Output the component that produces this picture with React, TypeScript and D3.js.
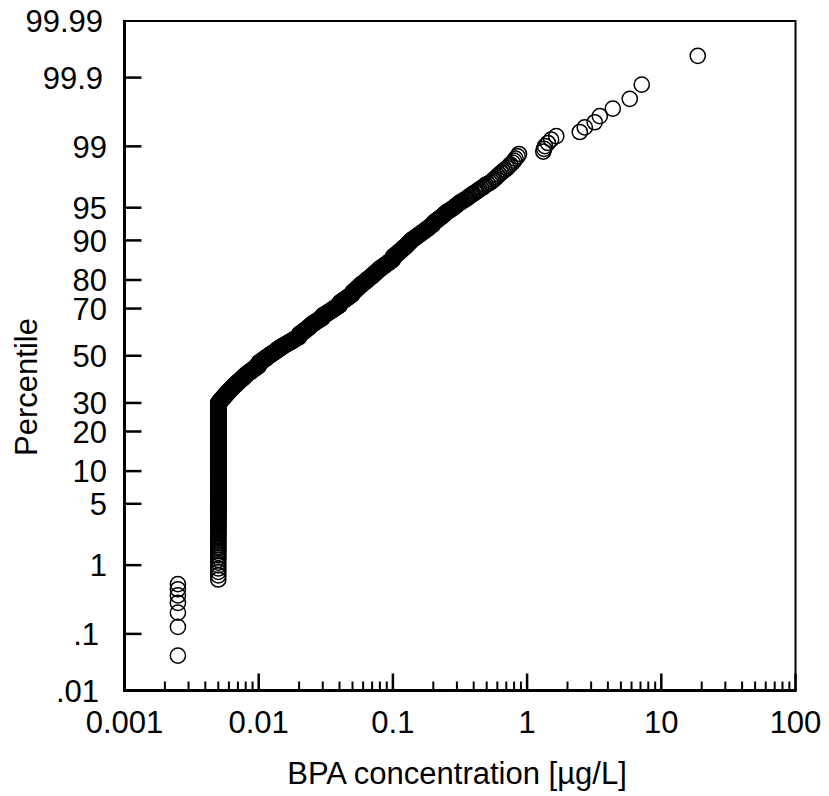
import React, { useEffect, useRef } from 'react'
import * as d3 from 'd3'

// eixo x (log) e eixo y (probabilidade normal)
const xTickValues = [0.001, 0.01, 0.1, 1, 10, 100]
const xTickLabels = ['0.001', '0.01', '0.1', '1', '10', '100']
const yTickValues = [0.01, 0.1, 1, 5, 10, 20, 30, 50, 70, 80, 90, 95, 99, 99.9, 99.99]
const yTickLabels = ['.01', '.1', '1', '5', '10', '20', '30', '50', '70', '80', '90', '95', '99', '99.9', '99.99']

// amostras abaixo do limite: [valor, quantidade]
const lowGroups: [number, number][] = [
  [0.0025, 7],
  [0.005, 343],
]

// faixa densa: [valor µg/L, quantidade de amostras]
const bandGroups: [number, number][] = [
  [0.00513, 8], [0.00525, 7], [0.00537, 7], [0.0055, 7], [0.00562, 7], [0.00575, 7], [0.00589, 7], [0.00603, 7], [0.00617, 7], [0.00631, 7],
  [0.00646, 6], [0.00661, 6], [0.00676, 6], [0.00692, 6], [0.00708, 6], [0.00724, 6], [0.00741, 6], [0.00759, 6], [0.00776, 7], [0.00794, 7],
  [0.00813, 5], [0.00832, 5], [0.00851, 5], [0.00871, 5], [0.00891, 5], [0.00912, 5], [0.00933, 5], [0.00955, 5], [0.00977, 5], [0.01, 16],
  [0.0102, 5], [0.0105, 5], [0.0107, 5], [0.011, 5], [0.0112, 5], [0.0115, 5], [0.0117, 5], [0.012, 5], [0.0123, 5], [0.0126, 4],
  [0.0129, 5], [0.0132, 5], [0.0135, 5], [0.0138, 5], [0.0141, 5], [0.0145, 5], [0.0148, 4], [0.0151, 4], [0.0155, 4], [0.0158, 4],
  [0.0162, 4], [0.0166, 4], [0.017, 4], [0.0174, 4], [0.0178, 4], [0.0182, 4], [0.0186, 4], [0.0191, 4], [0.0195, 4], [0.02, 14],
  [0.0204, 5], [0.0209, 5], [0.0214, 5], [0.0219, 5], [0.0224, 5], [0.0229, 5], [0.0234, 5], [0.024, 6], [0.0245, 6], [0.0251, 6],
  [0.0257, 4], [0.0263, 4], [0.0269, 4], [0.0275, 4], [0.0282, 4], [0.0288, 4], [0.0295, 4], [0.03, 11], [0.0309, 4], [0.0316, 4],
  [0.0324, 4], [0.0331, 4], [0.0339, 4], [0.0347, 4], [0.0355, 4], [0.0363, 4], [0.0372, 4], [0.038, 4], [0.0389, 4], [0.04, 12],
  [0.0407, 4], [0.0417, 4], [0.0427, 4], [0.0437, 4], [0.0447, 4], [0.0457, 4], [0.0468, 4], [0.0479, 4], [0.049, 4], [0.05, 9],
  [0.0513, 5], [0.0525, 5], [0.0537, 5], [0.055, 5], [0.0562, 5], [0.0575, 4], [0.0589, 4], [0.0603, 4], [0.0617, 4], [0.0631, 4],
  [0.0646, 4], [0.0661, 4], [0.0676, 4], [0.0692, 4], [0.0708, 4], [0.0724, 4], [0.0741, 4], [0.0759, 4], [0.0776, 4], [0.0794, 4],
  [0.0813, 3], [0.0832, 3], [0.0851, 3], [0.0871, 3], [0.0891, 3], [0.0912, 3], [0.0933, 3], [0.0955, 3], [0.0977, 3], [0.1, 9],
  [0.102, 3], [0.105, 3], [0.107, 3], [0.11, 3], [0.112, 3], [0.115, 3], [0.117, 3], [0.12, 3], [0.123, 3], [0.126, 4],
  [0.129, 3], [0.132, 3], [0.135, 3], [0.138, 3], [0.141, 2], [0.145, 2], [0.148, 2], [0.151, 2], [0.155, 2], [0.158, 2],
  [0.162, 2], [0.166, 2], [0.17, 2], [0.174, 2], [0.178, 2], [0.182, 2], [0.186, 2], [0.191, 2], [0.195, 2], [0.2, 3],
]

// parte superior da faixa, uma amostra por valor
const upperSamples = [
  0.202, 0.205, 0.208, 0.21, 0.213, 0.216, 0.219, 0.222, 0.226, 0.229, 0.232, 0.235, 0.238, 0.241, 0.244, 0.247, 0.25,
  0.255, 0.26, 0.265, 0.27, 0.275, 0.28, 0.285, 0.29, 0.295, 0.3, 0.305, 0.31, 0.315,
  0.325, 0.33, 0.34, 0.35, 0.355, 0.365, 0.37, 0.38, 0.39, 0.395,
  0.41, 0.42, 0.43, 0.44, 0.455, 0.47, 0.48, 0.49,
  0.51, 0.53, 0.545, 0.56, 0.575, 0.59, 0.605, 0.62,
  0.64, 0.66, 0.68, 0.71, 0.73, 0.75, 0.78,
  0.8, 0.82, 0.85, 0.87,
]

// valores altos
const highSamples = [1.32, 1.34, 1.36, 1.43, 1.51, 1.65, 2.47, 2.69, 3.19, 3.48, 4.35, 5.82, 7.15, 18.7]

// inversa da normal (Acklam)
function probit(p: number) {
  const a = [-3.969683028665376e1, 2.209460984245205e2, -2.759285104469687e2, 1.38357751867269e2, -3.066479806614716e1, 2.506628277459239]
  const b = [-5.447609879822406e1, 1.615858368580409e2, -1.556989798598866e2, 6.680131188771972e1, -1.328068155288572e1]
  const c = [-7.784894002430293e-3, -3.223964580411365e-1, -2.400758277161838, -2.549732539343734, 4.374664141464968, 2.938163982698783]
  const d = [7.784695709041462e-3, 3.224671290700398e-1, 2.445134137142996, 3.754408661907416]
  const plow = 0.02425
  if (p < plow) {
    const q = Math.sqrt(-2 * Math.log(p))
    return (((((c[0] * q + c[1]) * q + c[2]) * q + c[3]) * q + c[4]) * q + c[5]) / ((((d[0] * q + d[1]) * q + d[2]) * q + d[3]) * q + 1)
  }
  if (p <= 1 - plow) {
    const q = p - 0.5
    const r = q * q
    return ((((((a[0] * r + a[1]) * r + a[2]) * r + a[3]) * r + a[4]) * r + a[5]) * q) / (((((b[0] * r + b[1]) * r + b[2]) * r + b[3]) * r + b[4]) * r + 1)
  }
  const q = Math.sqrt(-2 * Math.log(1 - p))
  return -(((((c[0] * q + c[1]) * q + c[2]) * q + c[3]) * q + c[4]) * q + c[5]) / ((((d[0] * q + d[1]) * q + d[2]) * q + d[3]) * q + 1)
}

const ProbPlot = () => {
  const svgRef = useRef<SVGSVGElement>(null)

  useEffect(() => {
    const svg = d3.select(svgRef.current)
    svg.selectAll('*').remove()

    const left = 124.5
    const right = 795.5
    const top = 21
    const bottom = 690.5
    const font = '"Liberation Sans", Arial, sans-serif'

    const x = d3.scaleLog().domain([0.001, 100]).range([left, right])
    const z = d3.scaleLinear().domain([probit(0.0001), probit(0.9999)]).range([bottom, top])
    const y = (pct: number) => z(probit(pct / 100))
    const isDecade = (v: number) => Math.abs(Math.log10(v) - Math.round(Math.log10(v))) < 1e-6

    // amostra ordenada com posição de plotagem (i - 0.5) / n
    const single = (v: number) => [v, 1] as [number, number]
    const groups: [number, number][] = [...lowGroups, ...bandGroups, ...upperSamples.map(single), ...highSamples.map(single)]
    const n = d3.sum(groups, (g) => g[1])
    const points: { v: number; p: number }[] = []
    let rank = 0
    groups.forEach(([v, count]) => {
      for (let k = 0; k < count; k++) {
        rank++
        points.push({ v, p: ((rank - 0.5) / n) * 100 })
      }
    })

    // pontos
    svg
      .append('g')
      .selectAll('circle')
      .data(points)
      .join('circle')
      .attr('cx', (d) => x(d.v))
      .attr('cy', (d) => y(d.p))
      .attr('r', 7.6)
      .attr('fill', 'none')
      .attr('stroke', '#000')
      .attr('stroke-width', 1.5)

    // moldura
    svg
      .append('rect')
      .attr('x', left)
      .attr('y', top)
      .attr('width', right - left)
      .attr('height', bottom - top)
      .attr('fill', 'none')
      .attr('stroke', '#000')
      .attr('stroke-width', 2)
    svg.append('line').attr('x1', left).attr('x2', left).attr('y1', top - 1).attr('y2', bottom + 1.5).attr('stroke', '#000').attr('stroke-width', 3)
    svg.append('line').attr('x1', left - 1.5).attr('x2', right + 1).attr('y1', bottom).attr('y2', bottom).attr('stroke', '#000').attr('stroke-width', 3)

    // ticks do eixo x (para dentro)
    svg
      .append('g')
      .selectAll('line')
      .data(x.ticks())
      .join('line')
      .attr('x1', (d) => x(d))
      .attr('x2', (d) => x(d))
      .attr('y1', bottom)
      .attr('y2', (d) => (isDecade(d) ? bottom - 17 : bottom - 9))
      .attr('stroke', '#000')
      .attr('stroke-width', (d) => (isDecade(d) ? 2.5 : 2))

    svg
      .append('g')
      .selectAll('text')
      .data(xTickValues)
      .join('text')
      .attr('x', (d) => x(d))
      .attr('y', 733)
      .attr('text-anchor', 'middle')
      .attr('font-family', font)
      .attr('font-size', 31)
      .text((d, i) => xTickLabels[i])

    // ticks do eixo y
    svg
      .append('g')
      .selectAll('line')
      .data(yTickValues.slice(1, -1))
      .join('line')
      .attr('x1', left)
      .attr('x2', left + 17)
      .attr('y1', (d) => y(d))
      .attr('y2', (d) => y(d))
      .attr('stroke', '#000')
      .attr('stroke-width', 2.5)

    svg
      .append('g')
      .selectAll('text')
      .data(yTickValues)
      .join('text')
      .attr('x', (d, i) => (yTickLabels[i].startsWith('.') ? 99 : yTickLabels[i].includes('.') ? 103 : 107))
      .attr('y', (d) => y(d))
      .attr('dy', '0.36em')
      .attr('text-anchor', 'end')
      .attr('font-family', font)
      .attr('font-size', 31)
      .text((d, i) => yTickLabels[i])

    // títulos
    svg
      .append('text')
      .attr('x', 457)
      .attr('y', 784)
      .attr('text-anchor', 'middle')
      .attr('font-family', font)
      .attr('font-size', 31)
      .text('BPA concentration [µg/L]')

    svg
      .append('text')
      .attr('transform', 'translate(37,387) rotate(-90)')
      .attr('text-anchor', 'middle')
      .attr('font-family', font)
      .attr('font-size', 31)
      .text('Percentile')
  }, [])

  return <svg ref={svgRef} width={829} height={796} style={{ position: 'absolute', left: 0, top: 0, background: '#fff' }}></svg>
}

export default function App() {
  return <ProbPlot />
}
